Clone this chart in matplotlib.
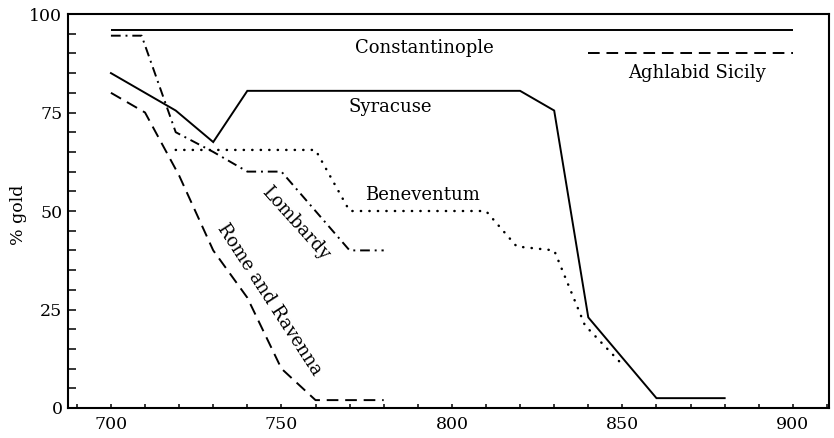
import matplotlib
matplotlib.use("Agg")
import matplotlib.pyplot as plt
from matplotlib.ticker import MultipleLocator

# Data (years, % gold)
const_x = [700, 900]
const_y = [96, 96]

aghl_x = [840, 900]
aghl_y = [90, 90]

syr_x = [700, 719, 730, 740, 820, 830, 840, 860, 880]
syr_y = [85, 75.5, 67.5, 80.5, 80.5, 75.5, 23, 2.5, 2.5]

lomb_x = [700, 709, 719, 730, 740, 750, 770, 780]
lomb_y = [94.5, 94.5, 70, 65, 60, 60, 40, 40]

bene_x = [719, 760, 770, 810, 819, 830, 839, 850]
bene_y = [65.5, 65.5, 50, 50, 41, 40, 21, 11]

rome_x = [700, 710, 720, 730, 740, 750, 760, 780]
rome_y = [80, 75, 59, 40, 28, 10, 2, 2]

xticks = [700, 750, 800, 850, 900]
yticks = [0, 25, 50, 75, 100]

plt.rcParams['font.family'] = ['DejaVu Serif']

fig = plt.figure(figsize=(8.34, 4.38), dpi=100)
ax = fig.add_axes([0.0815, 0.0685, 0.9125, 0.8995])

lw = 1.4
ax.plot(const_x, const_y, color='black', lw=lw, solid_capstyle='butt')
ax.plot(aghl_x, aghl_y, color='black', lw=lw, dashes=(6, 3.5))
ax.plot(syr_x, syr_y, color='black', lw=lw, solid_joinstyle='miter')
ax.plot(lomb_x, lomb_y, color='black', lw=lw, dashes=(5, 2.5, 1, 2.5))
ax.plot(bene_x, bene_y, color='black', lw=1.8, dashes=(0.1, 3.3), dash_capstyle='round')
ax.plot(rome_x, rome_y, color='black', lw=lw, dashes=(6, 3.5))

fs = 13
ax.text(792, 91.5, 'Constantinople', ha='center', va='center', fontsize=fs)
ax.text(872, 85, 'Aghlabid Sicily', ha='center', va='center', fontsize=fs)
ax.text(782, 76.3, 'Syracuse', ha='center', va='center', fontsize=fs)
ax.text(791.5, 54, 'Beneventum', ha='center', va='center', fontsize=fs)
ax.text(754.3, 47, 'Lombardy', ha='center', va='center', fontsize=fs, rotation=-48,
        rotation_mode='anchor')
ax.text(746.6, 27.4, 'Rome and Ravenna', ha='center', va='center', fontsize=fs, rotation=-57,
        rotation_mode='anchor')

ax.set_xlim(687.4, 910.6)
ax.set_ylim(0, 100)
ax.set_xticks(xticks)
ax.set_yticks(yticks)
ax.xaxis.set_minor_locator(MultipleLocator(10))
ax.yaxis.set_minor_locator(MultipleLocator(5))
ax.tick_params(axis='x', which='both', direction='in', length=3.2, width=1.1, labelsize=12.5, pad=6)
ax.tick_params(axis='y', which='both', direction='in', length=6, width=1.1, labelsize=12.5, pad=4)
ax.tick_params(top=False, right=False)
for s in ax.spines.values():
    s.set_linewidth(1.5)
ax.set_ylabel('% gold', fontsize=12.5)
ax.yaxis.set_label_coords(-0.054, 0.49)

fig.savefig('out.png', dpi=100)
